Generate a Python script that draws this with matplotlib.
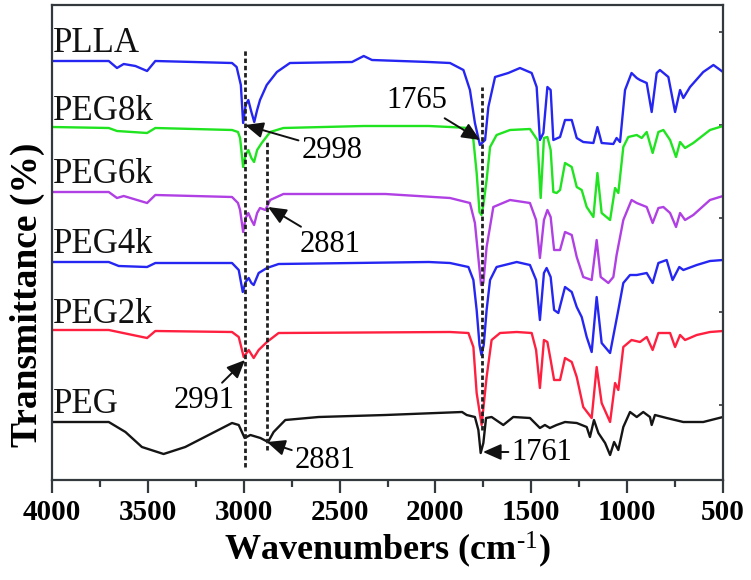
import matplotlib
matplotlib.use("Agg")
import matplotlib.pyplot as plt
import numpy as np

# ---------------- data ----------------
names = ["PLLA", "PEG8k", "PEG6k", "PEG4k", "PEG2k", "PEG"]
colors = ["#2626f2", "#1fe41f", "#b040e4", "#2626f2", "#ff2040", "#151515"]

plla_wn = [4000, 3704, 3661, 3626, 3565, 3504, 3461, 3061, 3037, 3015, 3003, 2990, 2976, 2960, 2945, 2930,
           2915, 2880, 2827, 2759, 2435, 2374, 2331, 2035, 1924, 1854, 1820, 1794, 1768, 1741, 1724, 1689,
           1620, 1559, 1498, 1472, 1455, 1437, 1416, 1399, 1385, 1350, 1324, 1289, 1263, 1229, 1176, 1155,
           1133, 1072, 1055, 1037, 1011, 977, 950, 933, 898, 872, 846, 829, 785, 750, 724, 707, 672, 603,
           550, 500]
plla_t = [419, 419, 412, 416, 414, 409, 419, 417, 413, 395, 357, 375, 380, 368, 358, 370,
          380, 395, 408, 417, 418, 424, 420, 418, 417, 410, 390, 357, 335, 340, 373, 403,
          407, 412, 407, 393, 340, 347, 393, 390, 340, 343, 360, 360, 342, 338, 337, 353,
          337, 336, 342, 338, 390, 407, 402, 400, 397, 368, 407, 410, 403, 368, 390, 382, 393, 408,
          415, 408]

peg8k_wn = [4000, 3704, 3661, 3504, 3461, 3061, 3030, 3019, 3003, 2990, 2976, 2960, 2946, 2930, 2906,
            2862, 2793, 2374, 2035, 1924, 1828, 1802, 1785, 1770, 1760, 1750, 1733, 1715, 1681, 1611,
            1507, 1468, 1451, 1434, 1416, 1399, 1385, 1368, 1350, 1324, 1289, 1263, 1237, 1211, 1176,
            1155, 1133, 1089, 1063, 1046, 1020, 994, 950, 924, 898, 867, 837, 811, 776, 745, 724, 698,
            655, 568, 500]
peg8k_t = [353, 352, 349, 347, 352, 350, 348, 342, 313, 325, 330, 322, 318, 330, 337,
           348, 352, 354, 354, 353, 352, 340, 307, 268, 265, 275, 300, 333, 345, 350,
           351, 340, 282, 342, 343, 330, 288, 287, 290, 317, 313, 293, 290, 273, 263,
           307, 267, 260, 292, 287, 333, 343, 345, 342, 348, 327, 348, 350, 340, 323, 338, 332,
           337, 350, 354]

peg6k_wn = [4000, 3704, 3661, 3626, 3504, 3461, 3061, 3030, 3019, 3003, 2990, 2976, 2960, 2946, 2930,
            2915, 2887, 2862, 2793, 2261, 1924, 1820, 1794, 1775, 1762, 1750, 1733, 1698, 1611, 1507,
            1475, 1455, 1434, 1416, 1399, 1381, 1350, 1324, 1289, 1263, 1229, 1185, 1159, 1138, 1098,
            1072, 1055, 1020, 977, 950, 898, 867, 837, 811, 776, 745, 724, 698, 655, 568, 500]
peg6k_t = [288, 288, 282, 284, 277, 285, 283, 277, 270, 248, 262, 267, 260, 255, 267,
           272, 270, 280, 286, 286, 282, 277, 257, 220, 195, 197, 233, 273, 280, 277,
           260, 222, 260, 270, 263, 230, 230, 248, 245, 223, 203, 200, 240, 203, 197,
           203, 225, 260, 280, 277, 273, 257, 272, 273, 267, 253, 267, 260, 265, 280, 284]

peg4k_wn = [4000, 3704, 3652, 3504, 3461, 3061, 3026, 3005, 2990, 2974, 2960, 2948, 2922, 2879, 2818,
            2035, 1924, 1828, 1802, 1785, 1770, 1760, 1748, 1733, 1715, 1681, 1576, 1507, 1475, 1455,
            1434, 1420, 1399, 1381, 1359, 1324, 1289, 1263, 1237, 1211, 1185, 1159, 1133, 1089, 1063,
            1046, 1020, 985, 950, 898, 867, 837, 794, 763, 728, 707, 637, 568, 500]
peg4k_t = [218, 218, 214, 213, 217, 217, 210, 188, 198, 202, 197, 195, 207, 212, 216,
           218, 217, 213, 200, 170, 135, 125, 135, 170, 200, 213, 218, 215, 200, 160,
           207, 212, 203, 170, 167, 193, 188, 173, 163, 143, 128, 183, 137, 127, 153,
           170, 197, 205, 205, 207, 197, 217, 220, 200, 213, 210, 215, 219, 220]

peg2k_wn = [4000, 3704, 3504, 3461, 3061, 3026, 3000, 2974, 2948, 2922, 2879, 2818, 1924, 1828, 1802,
            1785, 1759, 1733, 1707, 1663, 1576, 1498, 1475, 1455, 1434, 1416, 1399, 1381, 1350, 1324,
            1289, 1263, 1229, 1185, 1159, 1133, 1089, 1063, 1046, 1020, 977, 933, 898, 867, 837, 776,
            750, 724, 698, 637, 568, 500]
peg2k_t = [150, 150, 142, 149, 148, 143, 123, 130, 122, 130, 138, 147, 148, 147, 133,
           87, 55, 103, 140, 147, 148, 147, 130, 92, 140, 138, 120, 100, 100, 122,
           118, 103, 73, 62, 113, 77, 58, 97, 90, 133, 140, 138, 143, 130, 147, 147,
           133, 145, 140, 145, 148, 149]

peg_wn = [4000, 3704, 3617, 3531, 3418, 3305, 3183, 3061, 3026, 2995, 2965, 2913, 2873, 2844, 2783,
          2609, 2261, 1861, 1837, 1794, 1776, 1764, 1750, 1736, 1707, 1646, 1594, 1507, 1455, 1429,
          1403, 1368, 1324, 1263, 1211, 1194, 1173, 1150, 1115, 1089, 1068, 1046, 1020, 985, 950,
          916, 881, 872, 855, 794, 707, 603, 500]
peg_t = [58, 58, 48, 33, 26, 33, 45, 57, 55, 42, 45, 42, 38, 48, 60,
         63, 65, 68, 65, 63, 50, 27, 37, 62, 63, 55, 63, 62, 52, 55,
         52, 55, 58, 57, 53, 43, 60, 47, 37, 25, 38, 30, 53, 68, 63,
         68, 63, 55, 65, 62, 58, 58, 63]

series_wn = [plla_wn, peg8k_wn, peg6k_wn, peg4k_wn, peg2k_wn, peg_wn]
series_t = [plla_t, peg8k_t, peg6k_t, peg4k_t, peg2k_t, peg_t]

xticks = [4000, 3500, 3000, 2500, 2000, 1500, 1000, 500]
marked_peaks = [2995, 2880, 1759]

# ---------------- figure ----------------
plt.rcParams['font.family'] = ['Liberation Serif', 'DejaVu Serif']
plt.rcParams['mathtext.fontset'] = 'custom'
plt.rcParams['mathtext.rm'] = 'Liberation Serif'
plt.rcParams['mathtext.bf'] = 'Liberation Serif:bold'
plt.rcParams['mathtext.it'] = 'Liberation Serif:italic'

fig = plt.figure(figsize=(7.51, 5.80), dpi=100)
ax = fig.add_axes([52/751, 100/580, 671/751, 475/580])

for wn, t, c in zip(series_wn, series_t, colors):
    ax.plot(wn, t, color=c, lw=1.7, solid_joinstyle='round')

ax.set_xlim(4000, 500)
ax.set_ylim(0, 475)

# dashed marker lines
dash = dict(color='#202020', lw=2.0, linestyle=(0, (1.6, 1.0)))
ax.plot([marked_peaks[0]] * 2, [13, 430], **dash)
ax.plot([marked_peaks[1]] * 2, [30, 340], **dash)
ax.plot([marked_peaks[2]] * 2, [50, 393], **dash)

# curve labels
label_y = [428, 360, 297, 227, 157, 67]
for n, y in zip(names, label_y):
    ax.text(3993, y, n, fontsize=25, ha='left', va='baseline', color='#111111')

# annotations
arr = dict(arrowstyle='-|>,head_length=0.5,head_width=0.22', color='#111111', lw=1.4,
           shrinkA=0, shrinkB=0)
afs = 22
ax.annotate('2998', xy=(2993, 355), xytext=(2700, 330), fontsize=afs, ha='left', va='center',
            arrowprops=arr)
ax.annotate('2881', xy=(2873, 273), xytext=(2710, 236), fontsize=afs, ha='left', va='center',
            arrowprops=arr)
ax.annotate('1765', xy=(1767, 340), xytext=(1940, 379), fontsize=afs, ha='right', va='center',
            arrowprops=arr)
ax.annotate('2991', xy=(2993, 120), xytext=(3045, 80), fontsize=afs, ha='right', va='center',
            arrowprops=arr)
ax.annotate('2881', xy=(2879, 38), xytext=(2735, 19), fontsize=afs, ha='left', va='center',
            arrowprops=arr)
ax.annotate('1761', xy=(1752, 28), xytext=(1605, 28), fontsize=afs, ha='left', va='center',
            arrowprops=arr)

# axes styling
spine_c = '#34393d'
for s in ax.spines.values():
    s.set_color(spine_c)
    s.set_linewidth(1.6)

ax.set_xticks(xticks)
ax.set_xticks(np.arange(500, 4001, 250), minor=True)
ax.tick_params(axis='x', which='major', direction='out', length=9, width=1.6, color=spine_c,
               labelsize=21, pad=5)
ax.tick_params(axis='x', which='minor', direction='out', length=5, width=1.6, color=spine_c)
for lab in ax.get_xticklabels():
    lab.set_fontweight('bold')

ax.yaxis.tick_right()
ax.set_yticks([448, 355, 262, 168, 75])
ax.tick_params(axis='y', which='major', direction='in', length=3, width=1.2, color=spine_c,
               labelright=False, labelleft=False)

ax.set_xlabel(r'Wavenumbers (cm$^{\mathrm{\text{-}1}}$)', fontsize=26, fontweight='bold', labelpad=2)
ax.set_ylabel('Transmittance (%)', fontsize=27, fontweight='bold')
ax.yaxis.set_label_position('left')
ax.yaxis.set_label_coords(-0.010, 0.39)

fig.savefig('out.png', dpi=100)
